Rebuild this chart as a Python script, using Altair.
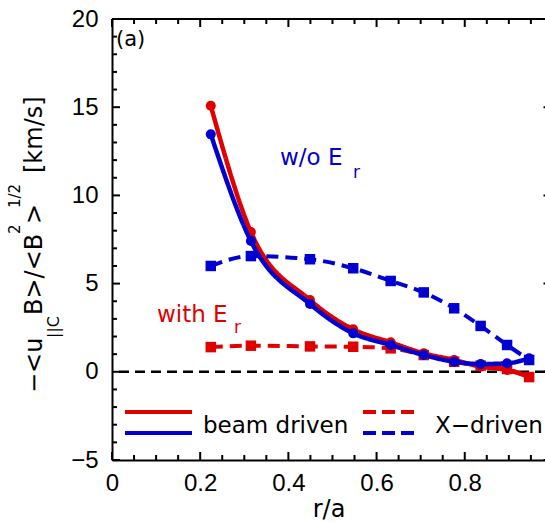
import altair as alt
import pandas as pd

# ---- data ----
r_a = [0.224, 0.315, 0.449, 0.547, 0.632, 0.707, 0.776, 0.836, 0.896, 0.946]
beam_with_er = [15.08, 7.93, 4.07, 2.41, 1.67, 1.05, 0.67, 0.29, 0.10, -0.28]
beam_wo_er = [13.46, 7.41, 3.84, 2.18, 1.52, 0.95, 0.57, 0.44, 0.48, 0.77]
xdrv_with_er = [1.40, 1.48, 1.44, 1.42, 1.33, 0.95, 0.57, 0.35, 0.16, -0.30]
xdrv_wo_er = [6.00, 6.56, 6.38, 5.87, 5.15, 4.50, 3.60, 2.60, 1.52, 0.67]

x_major = [0, 0.2, 0.4, 0.6, 0.8]
x_minor = [0.05, 0.1, 0.15, 0.25, 0.3, 0.35, 0.45, 0.5, 0.55, 0.65, 0.7, 0.75,
           0.85, 0.9, 0.95]
y_major = [-5, 0, 5, 10, 15, 20]
y_minor = [-4, -3, -2, -1, 1, 2, 3, 4, 6, 7, 8, 9, 11, 12, 13, 14, 16, 17, 18, 19]

RED = "#e00000"
BLUE = "#0000d0"
W, H = 433, 441
TICKFONT = "Liberation Sans"
TXTFONT = "DejaVu Sans"

xscale = alt.Scale(domain=[0, 0.982], nice=False, zero=False)
yscale = alt.Scale(domain=[-5, 20], nice=False, zero=False)

xaxis = alt.Axis(values=x_major, format="~g", ticks=False, grid=False,
                 domainColor="black", domainWidth=2,
                 labelFont=TICKFONT, labelFontSize=24, labelColor="black",
                 labelPadding=11, labelFlush=False,
                 titleFont=TXTFONT, titleFontSize=24,
                 titleFontWeight="normal", titleColor="black",
                 titlePadding=2)
yaxis = alt.Axis(values=y_major, ticks=False, grid=False,
                 domainColor="black", domainWidth=2,
                 labelFont=TICKFONT, labelFontSize=24, labelColor="black",
                 labelPadding=14, labelFlush=False)


def X(field):
    return alt.X(field, scale=xscale, axis=xaxis, title="r/a")


def Y(field):
    return alt.Y(field, scale=yscale, axis=yaxis, title=None)


one = alt.Data(values=[{}])


def series(vals, dashed, color, shape, size):
    df = pd.DataFrame({"r": r_a, "v": vals})
    base = alt.Chart(df)
    line = base.mark_line(
        color=color, strokeWidth=4.5 if not dashed else 4,
        interpolate="monotone",
        strokeDash=[12, 7] if dashed else [1, 0],
    ).encode(x=X("r:Q"), y=Y("v:Q"))
    pts = base.mark_point(
        shape=shape, filled=True, size=size, color=color, opacity=1
    ).encode(x=X("r:Q"), y=Y("v:Q"))
    return [line, pts]


zero_line = alt.Chart(one).mark_rule(
    color="black", strokeWidth=2.5, strokeDash=[10, 6]
).encode(y=alt.datum(0, scale=yscale, axis=yaxis, title=None))


def ticks_y(vals, x1, x2):
    return alt.Chart(pd.DataFrame({"t": vals})).mark_rule(
        color="black", strokeWidth=2
    ).encode(y=Y("t:Q"), x=alt.value(x1), x2=alt.value(x2))


def ticks_x(vals, y1, y2):
    return alt.Chart(pd.DataFrame({"t": vals})).mark_rule(
        color="black", strokeWidth=2
    ).encode(x=X("t:Q"), y=alt.value(y1), y2=alt.value(y2))


tick_layers = [
    ticks_y(y_major, 0, 8), ticks_y(y_minor, 0, 5),
    ticks_y(y_major, W - 1.5, W),
    ticks_x(x_major, H, H - 8), ticks_x(x_minor, H, H - 5),
    ticks_x(x_major, 0, 8), ticks_x(x_minor, 0, 5),
]

top_line = alt.Chart(one).mark_rule(color="black", strokeWidth=2).encode(
    x=alt.value(0), x2=alt.value(W), y=alt.value(0))


def txt(s, x, y, size, color="black", font=TXTFONT, angle=0):
    kw = dict(text=s, font=font, fontSize=size, color=color,
              align="left", baseline="alphabetic")
    if angle:
        kw["angle"] = angle
    return alt.Chart(one).mark_text(**kw).encode(x=alt.value(x), y=alt.value(y))


# y-axis title pieces (rotated), positions relative to plot origin
ytitle = [
    txt("\u2212<u", -70, 374, 24, angle=270),
    txt("||C", -53, 319, 16, angle=270),
    txt("B>/<B", -70, 296, 24, angle=270),
    txt("2", -92, 215, 15, angle=270),
    txt(">", -70, 205, 24, angle=270),
    txt("1/2", -92, 189, 15, angle=270),
    txt("[km/s]", -70, 154, 24, angle=270),
]

annotations = [
    txt("(a)", 4, 27, 21),
    txt("w/o E", 168, 146, 23, color=BLUE),
    txt("r", 241, 159, 17, color=BLUE),
    txt("with E", 45, 303, 23, color=RED),
    txt("r", 122, 314, 17, color=RED),
    txt("beam driven", 91, 414, 23),
    txt("X\u2212driven", 323, 414, 23),
]


def leg_line(x1, x2, y, color, dashed):
    return alt.Chart(one).mark_rule(
        color=color, strokeWidth=4,
        strokeDash=[13, 6] if dashed else [1, 0],
    ).encode(x=alt.value(x1), x2=alt.value(x2), y=alt.value(y))


legend = [
    leg_line(13, 80, 393, RED, False),
    leg_line(13, 80, 414, BLUE, False),
    leg_line(251, 303, 393, RED, True),
    leg_line(251, 303, 414, BLUE, True),
]

layers = [zero_line]
layers += series(beam_with_er, False, RED, "circle", 100)
layers += series(xdrv_with_er, True, RED, "square", 110)
layers += series(beam_wo_er, False, BLUE, "circle", 100)
layers += series(xdrv_wo_er, True, BLUE, "square", 110)
layers += tick_layers + [top_line] + ytitle + annotations + legend

chart = alt.layer(*layers).properties(
    width=W, height=H,
    autosize=alt.AutoSizeParams(type="none"),
    padding={"left": 112, "top": 19, "right": 0, "bottom": 62},
    background="white",
).configure_view(stroke=None)

chart.save("out.html", embed_options={"renderer": "svg", "actions": False})
